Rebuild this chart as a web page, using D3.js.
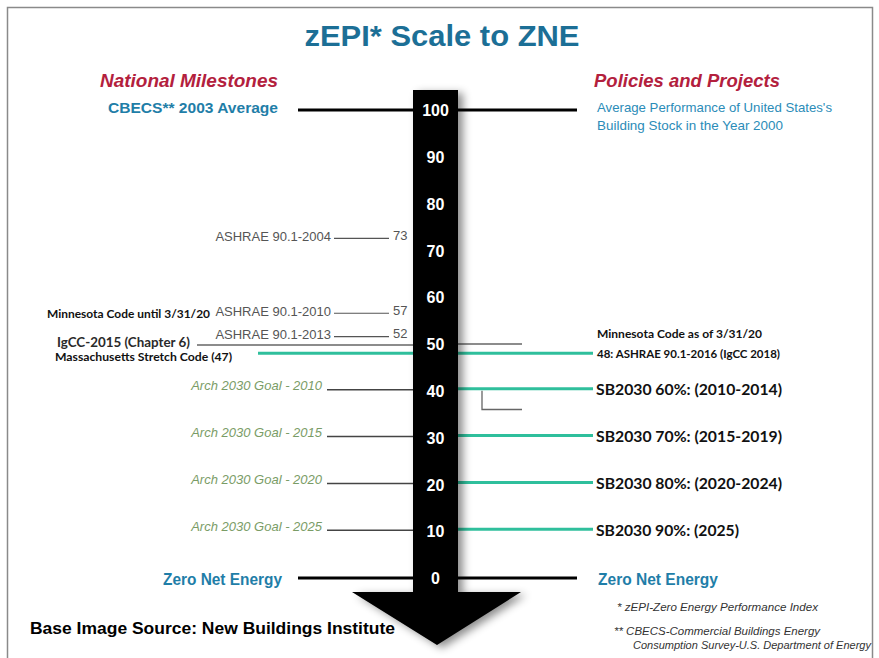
<!DOCTYPE html>
<html>
<head>
<meta charset="utf-8">
<script src="https://cdn.jsdelivr.net/npm/d3@7"></script>
<style>
  body { margin: 0; background: #fff; }
  svg { display: block; }
  text { font-family: "Liberation Sans Narrow", "Liberation Sans", Arial, sans-serif; }
  .cal { font-family: Lato, "Open Sans", sans-serif; font-weight: bold; }
</style>
</head>
<body>
<div id="chart"></div>
<script>
// zEPI scale values (tick labels inside the arrow)
var scaleTicks = [0, 10, 20, 30, 40, 50, 60, 70, 80, 90, 100];

// left: ASHRAE standards
var ashraeNames = ["ASHRAE 90.1-2004", "ASHRAE 90.1-2010", "ASHRAE 90.1-2013"];
var ashraeValues = [73, 57, 52];

// left: Architecture 2030 goals
var archNames = ["Arch 2030 Goal - 2010", "Arch 2030 Goal - 2015", "Arch 2030 Goal - 2020", "Arch 2030 Goal - 2025"];
var archValues = [40, 30, 20, 10];

// right: SB2030 targets
var sbNames = ["SB2030 60%: (2010-2014)", "SB2030 70%: (2015-2019)", "SB2030 80%: (2020-2024)", "SB2030 90%: (2025)"];
var sbValues = [40, 30, 20, 10];

// state codes
var igccValue = 50;
var stretchValue = 48;
var mnOldValue = 57;
var bracketValue = 36;

var width = 879, height = 658;
var svg = d3.select("#chart").append("svg")
    .attr("width", width)
    .attr("height", height);

var y = d3.scaleLinear().domain([0, 100]).range([578, 110]);

var barL = 413, barR = 458, cx = (barL + barR) / 2;
var teal = "#2fbf9c", blue = "#1f7ea8";

var defs = svg.append("defs");
var f = defs.append("filter").attr("id", "shadow")
    .attr("x", "-50%").attr("y", "-10%").attr("width", "200%").attr("height", "120%");
f.append("feDropShadow").attr("dx", 5).attr("dy", 3).attr("stdDeviation", 4)
    .attr("flood-color", "#000").attr("flood-opacity", 0.45);

// frame
svg.append("rect").attr("x", 7.5).attr("y", 7.5).attr("width", 865).attr("height", 700)
    .attr("fill", "none").attr("stroke", "#8a8a8a").attr("stroke-width", 1.5);

// title
function label(txt, x, yy, opts) {
  var t = svg.append("text").attr("x", x).attr("y", yy)
      .attr("dominant-baseline", "central")
      .attr("text-anchor", opts.anchor || "start")
      .attr("font-size", opts.size)
      .attr("fill", opts.fill || "#000")
      .text(txt);
  if (opts.bold) t.attr("font-weight", "bold");
  if (opts.italic) t.attr("font-style", "italic");
  if (opts.cls) t.attr("class", opts.cls);
  if (opts.len) t.attr("textLength", opts.len).attr("lengthAdjust", "spacingAndGlyphs");
  return t;
}

label("zEPI* Scale to ZNE", 442, 35, {anchor: "middle", size: 30, bold: true, fill: "#1c6f96", len: 275});
label("National Milestones", 189, 80, {anchor: "middle", size: 19, bold: true, italic: true, fill: "#b3203d", len: 178});
label("Policies and Projects", 687, 80, {anchor: "middle", size: 19, bold: true, italic: true, fill: "#b3203d", len: 186});

// 100 and 0 reference lines
[100, 0].forEach(function(v) {
  svg.append("line").attr("x1", 298).attr("x2", barL).attr("y1", y(v)).attr("y2", y(v))
      .attr("stroke", "#000").attr("stroke-width", 3);
  svg.append("line").attr("x1", barR).attr("x2", 577).attr("y1", y(v)).attr("y2", y(v))
      .attr("stroke", "#000").attr("stroke-width", 3);
});

label("CBECS** 2003 Average", 278, y(100) - 3, {anchor: "end", size: 15, bold: true, fill: blue, len: 170});
label("Average Performance of United States's", 597, y(100) - 3, {size: 13, fill: "#2b8cb8", len: 235});
label("Building Stock in the Year 2000", 597, y(100) + 15, {size: 13, fill: "#2b8cb8", len: 186});
label("Zero Net Energy", 282, y(0) + 1, {anchor: "end", size: 16, bold: true, fill: blue, len: 119});
label("Zero Net Energy", 598, y(0) + 1, {size: 16, bold: true, fill: blue, len: 120});

// gray reference line at 50 (IgCC)
svg.append("line").attr("x1", 197).attr("x2", barL).attr("y1", y(igccValue) + 1).attr("y2", y(igccValue) + 1)
    .attr("stroke", "#666").attr("stroke-width", 1.3);
svg.append("line").attr("x1", barR).attr("x2", 522).attr("y1", y(igccValue)).attr("y2", y(igccValue))
    .attr("stroke", "#666").attr("stroke-width", 1.3);
// bracket from 40 down
svg.append("path")
    .attr("d", "M482," + y(40) + "V" + y(bracketValue) + "H522")
    .attr("fill", "none").attr("stroke", "#666").attr("stroke-width", 1.3);

// ASHRAE
var ash = svg.append("g").selectAll("g").data(ashraeValues).join("g");
ash.append("line").attr("x1", 334).attr("x2", 389)
    .attr("y1", function(d) { return y(d) + 2; }).attr("y2", function(d) { return y(d) + 2; })
    .attr("stroke", "#555").attr("stroke-width", 1.2);
ash.append("text").attr("x", 331).attr("y", function(d) { return y(d); })
    .attr("dominant-baseline", "central").attr("text-anchor", "end")
    .attr("font-size", 13).attr("fill", "#555")
    .attr("font-family", "Liberation Sans, Arial, sans-serif")
    .text(function(d, i) { return ashraeNames[i]; });
ash.append("text").attr("x", 393).attr("y", function(d) { return y(d) - 1; })
    .attr("dominant-baseline", "central")
    .attr("font-size", 13).attr("fill", "#555")
    .attr("font-family", "Liberation Sans, Arial, sans-serif")
    .text(function(d) { return d; });

// Arch 2030
var arch = svg.append("g").selectAll("g").data(archValues).join("g");
arch.append("line").attr("x1", 327).attr("x2", barL)
    .attr("y1", function(d) { return y(d) - 1; }).attr("y2", function(d) { return y(d) - 1; })
    .attr("stroke", "#444").attr("stroke-width", 1.5);
arch.append("text").attr("x", 322).attr("y", function(d) { return y(d) - 5; })
    .attr("dominant-baseline", "central").attr("text-anchor", "end")
    .attr("font-size", 13).attr("font-style", "italic").attr("fill", "#7a9c66")
    .attr("font-family", "Liberation Sans, Arial, sans-serif")
    .text(function(d, i) { return archNames[i]; });

// SB2030
var sb = svg.append("g").selectAll("g").data(sbValues).join("g");
sb.append("line").attr("x1", barR).attr("x2", 593)
    .attr("y1", function(d) { return y(d) - 2; }).attr("y2", function(d) { return y(d) - 2; })
    .attr("stroke", teal).attr("stroke-width", 3);
sb.append("text").attr("class", "cal").attr("x", 596).attr("y", function(d) { return y(d) - 2; })
    .attr("dominant-baseline", "central")
    .attr("font-size", 16).attr("fill", "#111")
    .attr("textLength", function(d, i) { return i === 3 ? 143 : 186; })
    .attr("lengthAdjust", "spacingAndGlyphs")
    .text(function(d, i) { return sbNames[i]; });

// stretch code teal lines
svg.append("line").attr("x1", 258).attr("x2", barL).attr("y1", y(stretchValue)).attr("y2", y(stretchValue))
    .attr("stroke", teal).attr("stroke-width", 3);
svg.append("line").attr("x1", barR).attr("x2", 593).attr("y1", y(stretchValue)).attr("y2", y(stretchValue))
    .attr("stroke", teal).attr("stroke-width", 3);

// state code labels
label("Minnesota Code until 3/31/20", 210, y(mnOldValue) + 2, {anchor: "end", size: 12, cls: "cal", fill: "#111", len: 163});
label("IgCC-2015 (Chapter 6)", 57, y(igccValue) - 2, {size: 12.5, cls: "cal", fill: "#2a2a2a", len: 133});
label("Massachusetts Stretch Code (47)", 55, y(stretchValue) + 3, {size: 12, cls: "cal", fill: "#111", len: 177});
label("Minnesota Code as of 3/31/20", 597, y(stretchValue) - 20, {size: 12, cls: "cal", fill: "#111", len: 165});
label("48: ASHRAE 90.1-2016 (IgCC 2018)", 597, y(stretchValue), {size: 12, cls: "cal", fill: "#111", len: 183});

// arrow
svg.append("path")
    .attr("d", "M" + barL + ",90H" + barR + "V592H521L437,645L352,592H" + barL + "Z")
    .attr("fill", "#000").attr("filter", "url(#shadow)");

// scale numbers inside the arrow
var axis = d3.axisRight(y).tickValues(scaleTicks).tickSize(0).tickPadding(0);
var ax = svg.append("g").attr("transform", "translate(" + cx + ",0)").call(axis);
ax.select(".domain").remove();
ax.selectAll("text")
    .attr("x", 0).attr("dy", "0.35em")
    .attr("text-anchor", "middle")
    .attr("fill", "#fff")
    .attr("font-size", 16).attr("font-weight", "bold")
    .attr("font-family", "Liberation Sans, Arial, sans-serif");

// source & footnotes
label("Base Image Source: New Buildings Institute", 30, 628, {size: 17, bold: true, fill: "#000", len: 365});
label("*  zEPI-Zero Energy Performance Index", 617, 607, {size: 10.5, italic: true, fill: "#333", len: 201});
label("**  CBECS-Commercial Buildings Energy", 614, 631, {size: 10.5, italic: true, fill: "#333", len: 206});
label("Consumption Survey-U.S. Department of Energy", 633, 645, {size: 10.5, italic: true, fill: "#333", len: 238});
</script>
</body>
</html>
